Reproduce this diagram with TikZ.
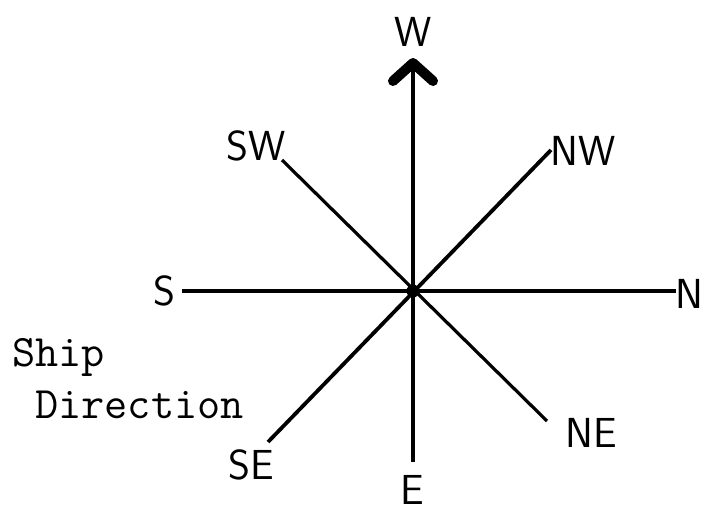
\documentclass[tikz,border=0pt]{standalone}
\usetikzlibrary{arrows.meta}
\begin{document}
\begin{tikzpicture}[x=0.5pt,y=-0.5pt, every node/.style={font=\sffamily\fontsize{21}{24}\selectfont}]
  \useasboundingbox (0,0) rectangle (709,510);
  \coordinate (O) at (413,291);
  \coordinate (Wtip) at (413,58);
  \coordinate (Ebot) at (413,462);
  \coordinate (Sl) at (182,291);
  \coordinate (Nr) at (676,291);
  \coordinate (SWend) at (282,160);
  \coordinate (NEend) at (547,421);
  \coordinate (NWend) at (551,150);
  \coordinate (SEend) at (268,442);
  \draw[line width=1.7pt] (Sl) -- (Nr);
  \draw[line width=1.6pt] (SWend) -- (NEend);
  \draw[line width=1.9pt] (SEend) -- (NWend);
  \draw[line width=1.8pt,-{Straight Barb[length=9pt,width=20pt,line width=5pt,round]}] (Ebot) -- (Wtip);
  \fill (O) circle (6.5);
  \node (w) at (413,32) {W};
  \node (sw) at (256,146) {SW};
  \node (nw) at (583,151) {NW};
  \node (s) at (164,291) {S};
  \node (n) at (689,294) {N};
  \node (se) at (251,465) {SE};
  \node (ne) at (591,433) {NE};
  \node (e) at (412,490) {E};
  \node[font=\ttfamily\fontsize{22.5}{26}\selectfont, align=left, anchor=north west] (dir) at (5,331) {Ship\\\ Direction};
\end{tikzpicture}
\end{document}
